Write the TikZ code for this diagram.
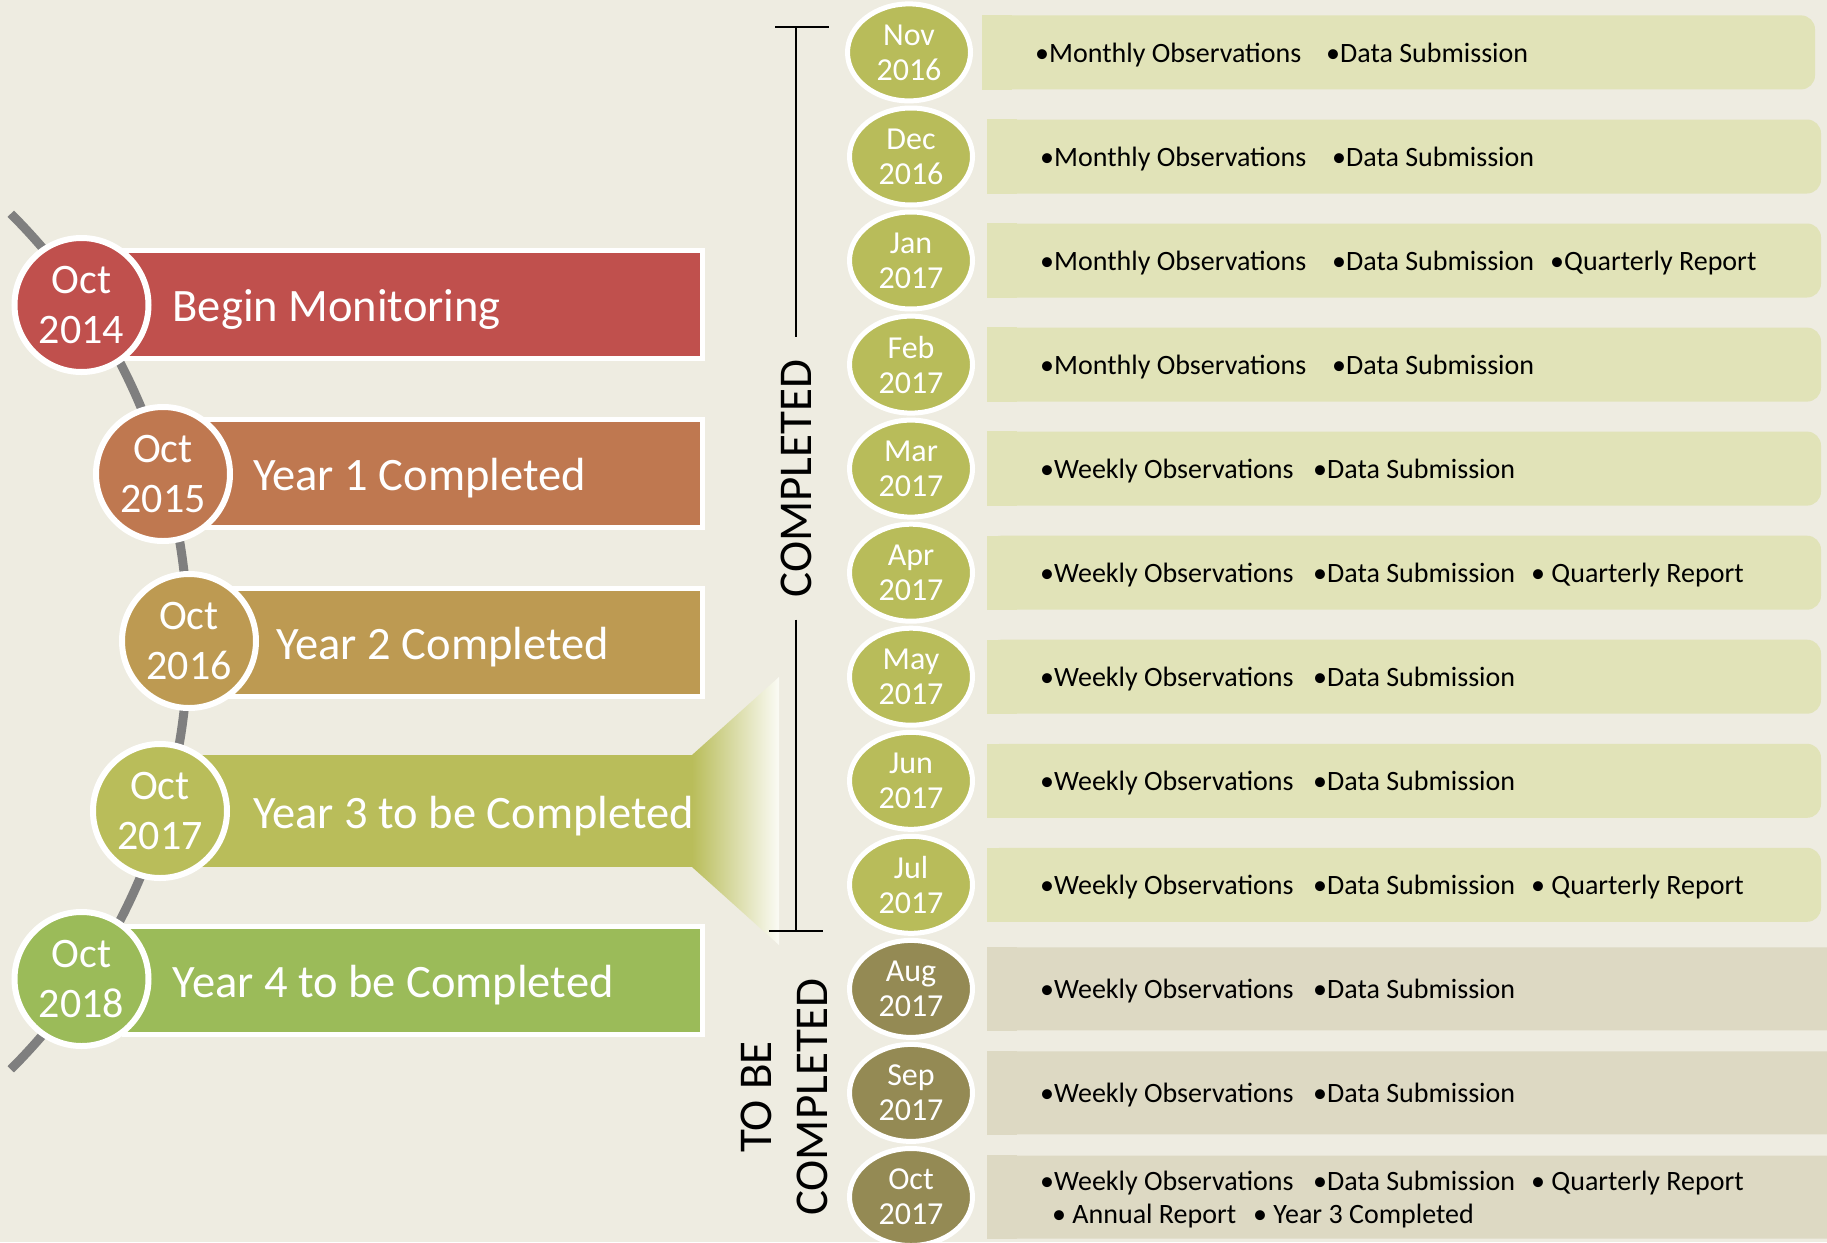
\documentclass[tikz,border=0pt]{standalone}
\usepackage{fontspec}
\setmainfont{Carlito}
\usetikzlibrary{shapes.geometric}
\definecolor{bgc}{HTML}{EEECE1}
\definecolor{c1}{HTML}{C0504D}
\definecolor{c2}{HTML}{BF7850}
\definecolor{c3}{HTML}{BD9A52}
\definecolor{c4}{HTML}{B9BD5A}
\definecolor{c5}{HTML}{9BBB59}
\definecolor{molive}{HTML}{B8BC5A}
\definecolor{mdark}{HTML}{948A54}
\definecolor{blight}{HTML}{E1E3B8}
\definecolor{bbeige}{HTML}{DDD9C3}
\definecolor{tlgray}{HTML}{7F7F7F}
\begin{document}
\begin{tikzpicture}[x=1pt,y=-1pt,
  yearcirc/.style={circle, draw=white, line width=6pt, minimum size=134pt, inner sep=0pt, text=white, align=center, font=\fontsize{42}{50}\selectfont},
  yearbar/.style={rectangle, draw=white, line width=5pt, minimum height=108pt, inner sep=0pt},
  bartext/.style={anchor=base west, text=white, inner sep=0pt, font=\fontsize{46.5}{50}\selectfont},
  month/.style={ellipse, draw=white, line width=5pt, minimum width=123pt, minimum height=97pt, inner sep=0pt, text=white, align=center, font=\fontsize{32}{35}\selectfont},
  rbox/.style={rectangle, rounded corners=14pt, inner sep=0pt},
  item/.style={anchor=base west, inner sep=0pt, text=black, font=\fontsize{28}{33}\selectfont},
  vlabel/.style={rotate=90, font=\fontsize{47}{56}\selectfont, align=center, inner ysep=0pt, inner xsep=22pt},
  brk/.style={draw=black, line width=2.2pt},
  tline/.style={draw=tlgray, line width=9pt},
]
\path[use as bounding box, fill=bgc] (0,0) rectangle (1827,1242);
\clip (0,0) rectangle (1827,1242);

% timeline arc
\coordinate (tlc) at (-417,641.5);
\draw[tline] (tlc) ++(-45:605) arc[start angle=-45, end angle=45, radius=605];

% bars
\node[yearbar, fill=c1, minimum width=578pt] (bar1) at (413.5,304.5) {};
\node[yearbar, fill=c2, minimum width=502pt] (bar2) at (451.5,473.5) {};
\node[yearbar, fill=c3, minimum width=473pt] (bar3) at (466,642.5) {};
\node[rectangle, fill=c4, minimum width=496pt, minimum height=112pt, inner sep=0pt] (bar4) at (445,811) {};
\node[yearbar, fill=c5, minimum width=578pt] (bar5) at (413.5,980.5) {};

% callout
\coordinate (ca) at (692,755);
\coordinate (cb) at (779,677);
\coordinate (cc) at (779,945);
\coordinate (cd) at (692,867);
\shade[left color=c4, right color=c4!6!white] (ca) -- (cb) -- (cc) -- (cd) -- cycle;

% bar texts
\node[bartext] (t1) at (172.5,321.5) {Begin Monitoring};
\node[bartext] (t2) at (253,490.5) {Year 1 Completed};
\node[bartext] (t3) at (276,659.5) {Year 2 Completed};
\node[bartext] (t4) at (253,828) {Year 3 to be Completed};
\node[bartext] (t5) at (172.5,997.5) {Year 4 to be Completed};

% year circles
\node[yearcirc, fill=c1] (y1) at (81.5,305) {Oct\\2014};
\node[yearcirc, fill=c2] (y2) at (163,474) {Oct\\2015};
\node[yearcirc, fill=c3] (y3) at (189,641) {Oct\\2016};
\node[yearcirc, fill=c4] (y4) at (160,811) {Oct\\2017};
\node[yearcirc, fill=c5] (y5) at (81.5,979) {Oct\\2018};

% bracket and labels
\node[vlabel] (lblc) at (796,478.5) {COMPLETED};
\coordinate (brtop) at (796,27);
\coordinate (brbot) at (796,931);
\coordinate (tkt1) at (775,27);
\coordinate (tkt2) at (829,27);
\coordinate (tkb1) at (769,931);
\coordinate (tkb2) at (823,931);
\draw[brk] (tkt1) -- (tkt2);
\draw[brk] (tkb1) -- (tkb2);
\draw[brk] (brtop) -- (lblc.east);
\draw[brk] (lblc.west) -- (brbot);
\node[vlabel] (lbltb) at (784.5,1097) {TO BE\\COMPLETED};

% right rows: boxes and month ellipses
\foreach \i/\yy/\mx/\mo/\yr/\mc/\bc/\xa/\xb/\bh in {
 1/52.4/909/Nov/2016/molive/blight/982/1815/74,
 2/156.5/911/Dec/2016/molive/blight/987/1821/74,
 3/260.5/911/Jan/2017/molive/blight/987/1821/74,
 4/364.6/911/Feb/2017/molive/blight/987/1821/74,
 5/468.6/911/Mar/2017/molive/blight/987/1821/74,
 6/572.7/911/Apr/2017/molive/blight/987/1821/74,
 7/676.7/911/May/2017/molive/blight/987/1821/74,
 8/780.8/911/Jun/2017/molive/blight/987/1821/74,
 9/884.8/911/Jul/2017/molive/blight/987/1821/74,
 10/988.9/911/Aug/2017/mdark/bbeige/987/1845/83,
 11/1092.9/911/Sep/2017/mdark/bbeige/987/1845/83,
 12/1197/911/Oct/2017/mdark/bbeige/987/1845/83}
{
  \node[rbox, fill=\bc, minimum width={\xb-\xa}, minimum height=\bh] (b\i) at ({(\xa+\xb)/2},\yy) {};
  \fill[\bc] (b\i.north west) rectangle ([xshift=30pt]b\i.south west);
  \node[month, fill=\mc] (m\i) at (\mx,\yy) {\mo\\\yr};
}

% row items
\node[item] (i1a) at (1035,62.4) {•Monthly Observations};
\node[item] (i1b) at (1326,62.4) {•Data Submission};
\node[item] (i2a) at (1040,166.5) {•Monthly Observations};
\node[item] (i2b) at (1332,166.5) {•Data Submission};
\node[item] (i3a) at (1040,270.5) {•Monthly Observations};
\node[item] (i3b) at (1332,270.5) {•Data Submission};
\node[item] (i3c) at (1550,270.5) {•Quarterly Report};
\node[item] (i4a) at (1040,374.6) {•Monthly Observations};
\node[item] (i4b) at (1332,374.6) {•Data Submission};
\node[item] (i5a) at (1040,478.6) {•Weekly Observations};
\node[item] (i5b) at (1313,478.6) {•Data Submission};
\node[item] (i6a) at (1040,582.7) {•Weekly Observations};
\node[item] (i6b) at (1313,582.7) {•Data Submission};
\node[item] (i6c) at (1531,582.7) {• Quarterly Report};
\node[item] (i7a) at (1040,686.7) {•Weekly Observations};
\node[item] (i7b) at (1313,686.7) {•Data Submission};
\node[item] (i8a) at (1040,790.8) {•Weekly Observations};
\node[item] (i8b) at (1313,790.8) {•Data Submission};
\node[item] (i9a) at (1040,894.8) {•Weekly Observations};
\node[item] (i9b) at (1313,894.8) {•Data Submission};
\node[item] (i9c) at (1531,894.8) {• Quarterly Report};
\node[item] (i10a) at (1040,998.9) {•Weekly Observations};
\node[item] (i10b) at (1313,998.9) {•Data Submission};
\node[item] (i11a) at (1040,1102.9) {•Weekly Observations};
\node[item] (i11b) at (1313,1102.9) {•Data Submission};
\node[item] (i12a) at (1040,1190) {•Weekly Observations};
\node[item] (i12b) at (1313,1190) {•Data Submission};
\node[item] (i12c) at (1531,1190) {• Quarterly Report};
\node[item] (i12d) at (1052,1223) {• Annual Report};
\node[item] (i12e) at (1253,1223) {• Year 3 Completed};
\end{tikzpicture}
\end{document}
